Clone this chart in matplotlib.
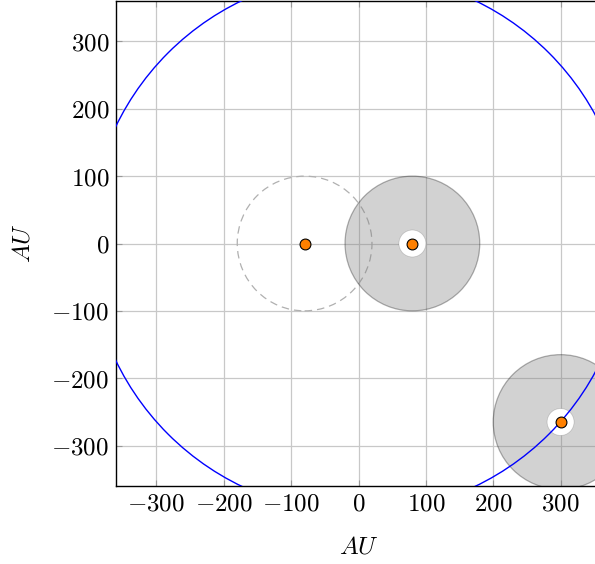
import numpy as np
import matplotlib
matplotlib.use('Agg')
import matplotlib.pyplot as plt
from matplotlib.patches import Circle
from matplotlib.ticker import FuncFormatter

plt.rcParams['mathtext.fontset'] = 'cm'
plt.rcParams['font.family'] = 'serif'

# orbit / objects (AU)
orbit_radius = 400
disk_x = [80, 300]
disk_y = [0, -265]
disk_outer = [100, 100]
disk_inner = [20, 20]
ghost_x = [-80]
ghost_y = [0]
ghost_radius = [100]
star_x = [-80, 80, 300]
star_y = [0, 0, -265]
ticks = [-300, -200, -100, 0, 100, 200, 300]

fig = plt.figure(figsize=(5.95, 5.64), dpi=100)
ax = fig.add_axes([116/595, 78/564, 485/595, 485/564])

ax.add_patch(Circle((0, 0), orbit_radius, fill=False, ec='blue', lw=1.0, zorder=3))

for cx, cy, r in zip(ghost_x, ghost_y, ghost_radius):
    ax.add_patch(Circle((cx, cy), r, fill=False, ec='#b0b0b0', lw=0.9,
                        ls=(0, (6, 4)), zorder=2))

for cx, cy, ro, ri in zip(disk_x, disk_y, disk_outer, disk_inner):
    ax.add_patch(Circle((cx, cy), ro, fc=(0.5, 0.5, 0.5, 0.35),
                        ec=(0, 0, 0, 0.3), lw=0.9, zorder=2))
    ax.add_patch(Circle((cx, cy), ri, fc='white', ec=(0, 0, 0, 0.15), lw=0.6, zorder=2.5))

ax.plot(star_x, star_y, 'o', color='#ff8000', mec='black', mew=0.8, ms=7.8, zorder=5)

ax.set_xlim(-360, 360)
ax.set_ylim(-360, 360)
ax.set_aspect('equal')
ax.set_xticks(ticks)
ax.set_yticks(ticks)
fmt = FuncFormatter(lambda v, p: r'$%d$' % v)
ax.xaxis.set_major_formatter(fmt)
ax.yaxis.set_major_formatter(fmt)
ax.tick_params(direction='in', length=4, color='#999999', labelsize=18, pad=5,
               top=True, right=True)
ax.grid(True, color='#c8c8c8', lw=0.9, zorder=0)
ax.set_axisbelow(True)
for s in ax.spines.values():
    s.set_linewidth(1.0)
ax.set_xlabel(r'$AU$', fontsize=18, labelpad=14)
ax.set_ylabel(r'$AU$', fontsize=18, labelpad=12)

fig.savefig('out.png', dpi=100)
